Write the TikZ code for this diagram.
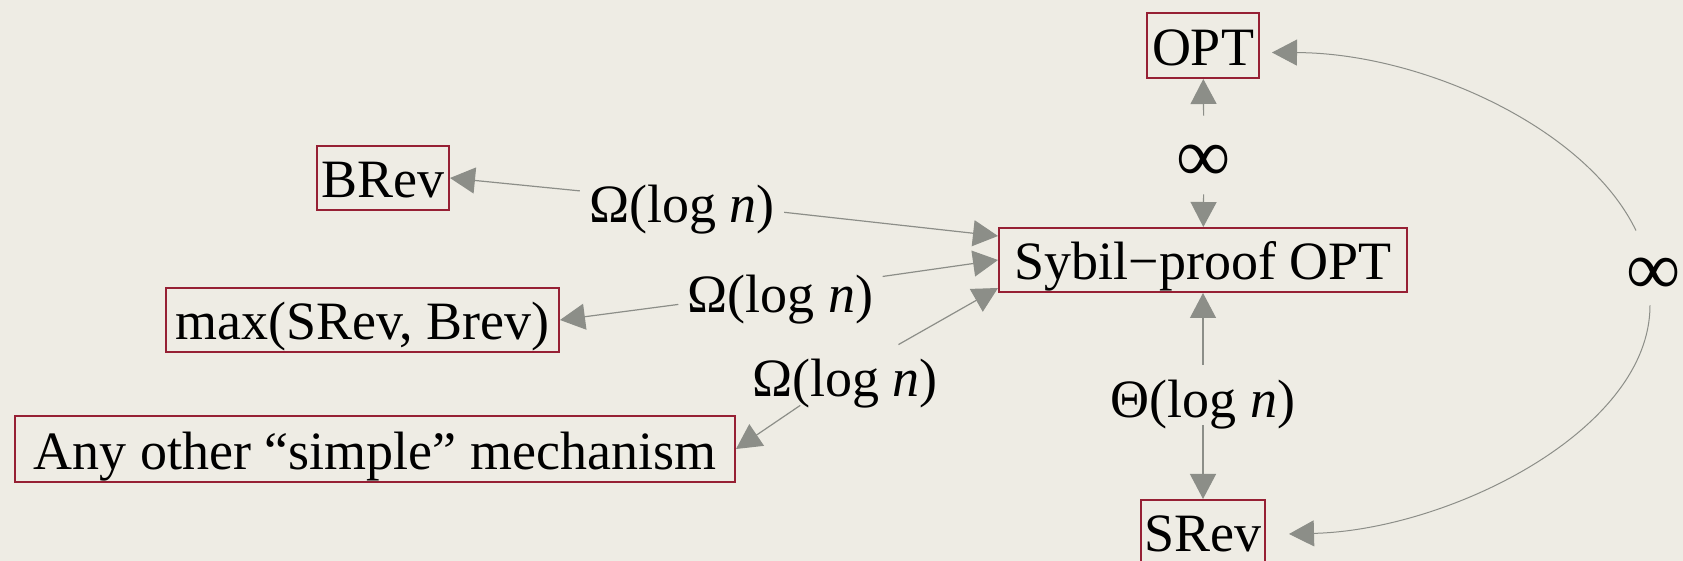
\documentclass[tikz,border=0pt]{standalone}
\usepackage{fontspec}
\setmainfont{Liberation Serif}
\usetikzlibrary{arrows.meta}
\definecolor{bgc}{RGB}{238,236,228}
\definecolor{boxred}{RGB}{150,32,52}
\definecolor{conng}{RGB}{140,142,136}
\begin{document}
\begin{tikzpicture}[x=0.5pt,y=-0.5pt,
  mbox/.style={draw=boxred, line width=1pt, inner sep=0pt, text height=20pt, text depth=0pt,
    font=\fontsize{27}{30}\selectfont, align=center},
  lbl/.style={anchor=base, inner xsep=4.5pt, inner ysep=0pt, text height=26pt, text depth=4pt,
    font=\fontsize{27}{30}\selectfont},
  inf/.style={anchor=base, inner sep=0pt, text height=33pt, text depth=6pt,
    font=\fontsize{38}{40}\selectfont},
  conn/.style={draw=conng, line width=0.6pt, -{Triangle[length=12.5pt,width=13pt]}},
  curv/.style={draw=conng, line width=0.5pt, -{Triangle[length=12.5pt,width=13pt]}}]
\fill[bgc] (0,0) rectangle (1683,561);
\useasboundingbox (0,0) rectangle (1683,561);
% boxes
\node[mbox, minimum width=56pt, minimum height=32.5pt] (opt) at (1203,45.5) {OPT};
\node[mbox, minimum width=66pt, minimum height=32pt] (brev) at (383,178) {BRev};
\node[mbox, minimum width=196.5pt, minimum height=32pt] (max) at (362.5,320) {max(SRev, Brev)};
\node[mbox, minimum width=360pt, minimum height=33pt] (any) at (375,449) {Any other “simple” mechanism};
\node[mbox, minimum width=204pt, minimum height=32pt] (sybil) at (1203,260) {Sybil−proof OPT};
\node[mbox, minimum width=62pt, minimum height=32pt] (srev) at (1203,532) {SRev};
% labels
\node[lbl] (l1) at (682,223) {Ω(log \textit{n})};
\node[lbl] (l2) at (780.5,313) {Ω(log \textit{n})};
\node[lbl] (l3) at (845,397) {Ω(log \textit{n})};
\node[lbl] (theta) at (1203,417) {Θ(log \textit{n})};
\node[inf] (inftop) at (1204,182) {∞};
\node[inf] (infright) at (1654,295) {∞};
% connectors
\draw[conn] (inftop) -- (opt);
\draw[conn] (inftop) -- (sybil);
\draw[conn] (l1) -- (brev.east);
\draw[conn] (l1) -- ([yshift=12pt]sybil.west);
\draw[conn] (l2) -- (max.east);
\draw[conn] (l2) -- (sybil.west);
\draw[conn] (l3) -- (any.east);
\draw[conn] (l3) -- ([yshift=-14pt]sybil.west);
\draw[conn] (theta) -- (sybil);
\draw[conn] (theta) -- (srev);
\draw[curv] ([xshift=-9pt,yshift=-1pt]infright.north) .. controls (1586,127) and (1421,53) .. ([shift={(6pt,-3.5pt)}]opt.east);
\draw[curv] ([xshift=-2pt,yshift=1pt]infright.south) .. controls (1650,430) and (1450,530) .. ([shift={(11.5pt,-1pt)}]srev.east);
\end{tikzpicture}
\end{document}
